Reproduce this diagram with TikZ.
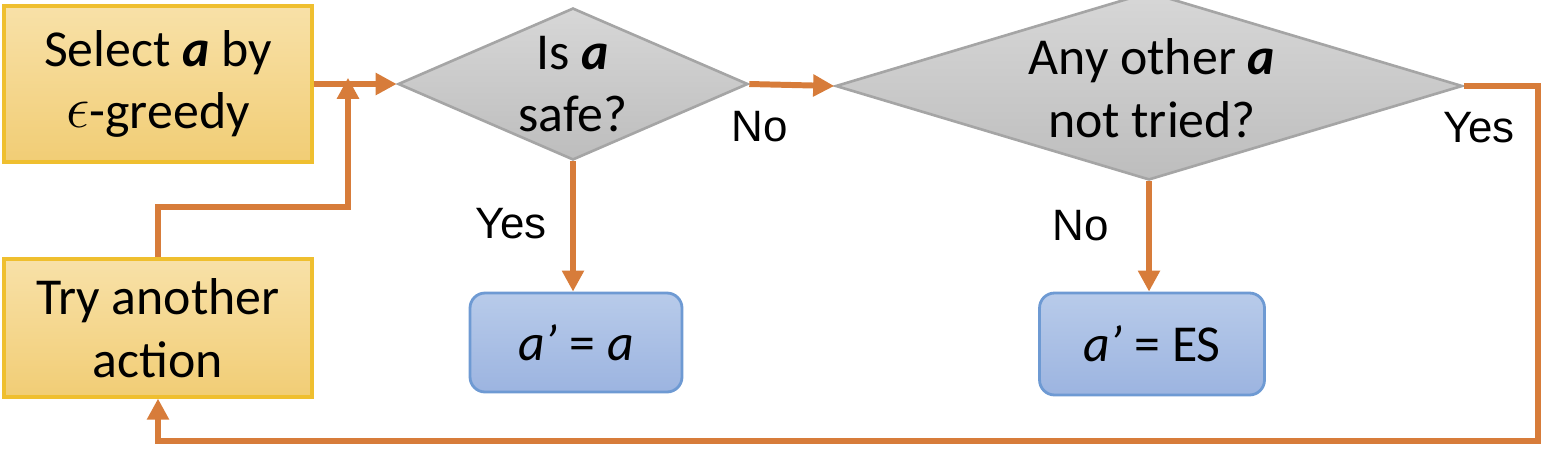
\documentclass[tikz,border=0pt]{standalone}
\usepackage{fontspec}
\setmainfont{Carlito}
\newfontfamily\arialf{Liberation Sans}
\usetikzlibrary{shapes.geometric,arrows.meta}
\definecolor{ylwtop}{HTML}{F8E1A8}
\definecolor{ylwbot}{HTML}{F1CD75}
\definecolor{ylwbd}{HTML}{EFBF2F}
\definecolor{grytop}{HTML}{D7D7D7}
\definecolor{grybot}{HTML}{BDBDBD}
\definecolor{grybd}{HTML}{A5A5A5}
\definecolor{blutop}{HTML}{B8CBEA}
\definecolor{blubot}{HTML}{9CB4E0}
\definecolor{blubd}{HTML}{6E9AD3}
\definecolor{orng}{HTML}{D77C3A}
\begin{document}
\begin{tikzpicture}[x=0.02cm,y=-0.02cm,
  ybox/.style={draw=ylwbd,line width=1.8pt,top color=ylwtop,bottom color=ylwbot,inner sep=0pt,align=center,font=\fontsize{29.5}{35.7}\selectfont},
  dia/.style={diamond,draw=grybd,line width=1.5pt,top color=grytop,bottom color=grybot,inner sep=0pt},
  btxt/.style={align=center,font=\fontsize{29.5}{35.7}\selectfont},
  bbox/.style={draw=blubd,line width=1.6pt,rounded corners=0.3cm,top color=blutop,bottom color=blubot,inner sep=0pt,align=center,font=\fontsize{29.5}{35.7}\selectfont},
  conn/.style={draw=orng,line width=3.4pt,-{Triangle[length=12pt,width=12pt]}},
  lbl/.style={font=\arialf\fontsize{25}{30}\selectfont,inner sep=0pt}]
\useasboundingbox (0,0) rectangle (1550,451);
% nodes
\node[ybox,minimum width=6.16cm,minimum height=3.12cm] (sel) at (158,84) {Select \textbf{\textit{a}} by\\\raisebox{0.02em}{\scalebox{1.35}{$\epsilon$}}-greedy};
\node[ybox,minimum width=6.16cm,minimum height=2.76cm] (try) at (158,328) {Try another\\action};
\node[dia,minimum width=7cm,minimum height=3.04cm] (d1) at (573,84) {};
\node[btxt] (d1t) at (573,84) {Is \textbf{\textit{a}}\\safe?};
\node[dia,minimum width=12.54cm,minimum height=3.76cm] (d2) at (1149,86) {};
\node[btxt] (d2t) at (1152,88) {Any other \textbf{\textit{a}}\\not tried?};
\node[bbox,minimum width=4.24cm,minimum height=1.98cm] (b1) at (576,342.5) {\textit{a’} = \textit{a}};
\node[bbox,minimum width=4.5cm,minimum height=2.04cm] (b2) at (1152,344) {\textit{a’} = ES};
% labels
\node[lbl] (lno1) at (760,127) {No};
\node[lbl] (lyes1) at (511,224) {Yes};
\node[lbl] (lno2) at (1081,226) {No};
\node[lbl] (lyes2) at (1479,128) {Yes};
% helper coordinates
\coordinate (j1) at (348,83);
\coordinate (rc) at (1538,441);
% connectors
\draw[conn] (sel.east) -- (d1.west);
\draw[conn] (try.north) |- (348,207) -- ([yshift=3pt]j1);
\draw[conn] (d1.east) -- (d2.west);
\draw[conn] (d1.south) -- (d1.south |- b1.north);
\draw[conn] (d2.south) -- (d2.south |- b2.north);
\draw[conn] (d2.east) -| (rc) -| (try.south);
\end{tikzpicture}
\end{document}
